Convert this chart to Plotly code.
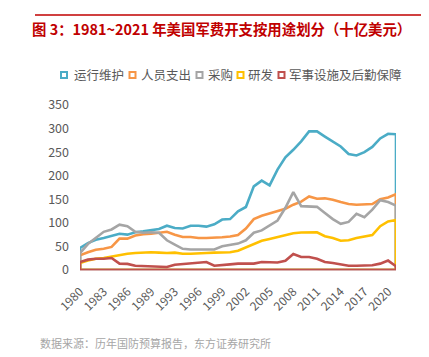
import plotly.graph_objects as go

years = [str(y) for y in list(range(1980, 1990)) + list(range(1991, 2022))]
tick_labels = ["1980", "1983", "1986", "1989", "1993", "1996", "1999", "2002",
               "2005", "2008", "2011", "2014", "2017", "2020"]

series_names = ["运行维护", "人员支出", "采购", "研发", "军事设施及后勤保障"]

om = [46.7, 57, 64, 68, 73, 77, 75, 80, 82, 85, 87, 94, 89, 88, 94, 94, 92, 97, 107, 108,
      124.5, 133.7, 177.5, 189.5, 179.6, 212.9, 239, 255, 273, 294, 294, 283, 273, 262, 246,
      243, 250, 261, 279, 289, 288]
personnel = [31, 37.5, 43, 45, 49, 66.5, 66.5, 73, 76, 77, 79, 81, 75, 70, 70, 68, 68, 68, 69.5, 71,
             74, 88, 108, 115, 120, 126, 130, 138.5, 145, 156, 151, 152, 149, 144, 140,
             138.5, 138.5, 140, 150, 154, 161]
procurement = [36, 55, 69, 81, 86, 96, 93, 81, 79, 80, 79, 63, 54, 45, 43.5, 43.5, 42, 43.5, 50.5, 53,
               56, 63, 79, 84, 95, 105, 132, 165, 135.5, 135.5, 134, 121, 108, 98, 102,
               119, 112, 128, 148, 144, 136.5]
rnd = [15, 20, 24, 25.5, 29, 32.5, 34.6, 36, 36.8, 37.5, 36.8, 36, 36.8, 34.6, 34.6, 34.6, 36, 36.8, 37.5, 37.5,
       41, 48, 56, 62, 66, 70, 75, 78, 79.5, 79.5, 80, 71.6, 68, 62, 63,
       68, 71, 74, 93, 103, 106]
facilities = [17, 22, 24, 24, 25.5, 13.5, 13, 9, 8, 8, 6.4, 6.4, 11.3, 12.7, 12.7, 15, 17, 9, 9.9, 12,
              13.5, 12.7, 13.5, 17, 17, 16, 19.7, 34, 27.6, 27.6, 24, 17, 15, 12.7, 9,
              9, 9, 10, 13.5, 20, 8]

all_series = [om, personnel, procurement, rnd, facilities]
colors = ["#4BACC6", "#F79646", "#A5A5A5", "#FFC000", "#C0504D"]

W, H = 429, 357
L, R, T, B = 72, 41, 97, 95
PW, PH = W - L - R, H - T - B


def px(x):
    return (x - L) / PW


def py(y):
    return (H - B - y) / PH


fig = go.Figure()
for name, vals, col in zip(series_names, all_series, colors):
    xs = [years[0]] + years + [years[-1], years[0]]
    ys = [0] + vals + [0, 0]
    fig.add_trace(go.Scatter(x=xs, y=ys, mode="lines", name=name,
                             line=dict(color=col, width=2.6), showlegend=False,
                             hoverinfo="skip"))

grey = "#595959"
font_cjk = "Noto Sans CJK SC, Liberation Sans, sans-serif"

shapes = [
    dict(type="line", xref="paper", yref="paper", x0=px(27), x1=px(420), y0=py(7), y1=py(7),
         line=dict(color="#C00000", width=1.5)),
    dict(type="line", xref="paper", yref="paper", x0=px(20), x1=px(427), y0=py(352), y1=py(352),
         line=dict(color="#E88A8A", width=2)),
]
annotations = [
    dict(text="<b>图 3：1981~2021 年美国军费开支按用途划分（十亿美元）</b>", xref="paper", yref="paper",
         x=px(22), y=py(20), xanchor="left", yanchor="middle", showarrow=False,
         font=dict(family=font_cjk, size=14.4, color="#C00000")),
    dict(text="数据来源：历年国防预算报告，东方证券研究所", xref="paper", yref="paper",
         x=px(30), y=py(335), xanchor="left", yanchor="middle", showarrow=False,
         font=dict(family=font_cjk, size=11, color="#A6A6A6")),
]

icon_cx = [56, 124.5, 191.5, 232.5, 273.5]
text_x = [64, 131, 198, 238, 279]
ly = 67
for name, col, cx, tx in zip(series_names, colors, icon_cx, text_x):
    shapes.append(dict(type="rect", xref="paper", yref="paper",
                       x0=px(cx - 3), x1=px(cx + 3), y0=py(ly + 3), y1=py(ly - 3),
                       line=dict(color=col, width=2), fillcolor="white"))
    annotations.append(dict(text=name, xref="paper", yref="paper", x=px(tx), y=py(ly),
                            xanchor="left", yanchor="middle", showarrow=False,
                            font=dict(family=font_cjk, size=12.5, color=grey)))

fig.update_layout(
    width=W, height=H,
    margin=dict(l=L, r=R, t=T, b=B),
    paper_bgcolor="white", plot_bgcolor="white",
    showlegend=False,
    shapes=shapes, annotations=annotations,
    xaxis=dict(type="category", categoryorder="array", categoryarray=years,
               range=[0, len(years) - 1], tickmode="array", tickvals=tick_labels,
               ticktext=tick_labels, tickangle=-45, showgrid=False, zeroline=False,
               showline=True, linecolor="#D9B0AE", linewidth=1, ticks="",
               ticklabelstandoff=9,
               tickfont=dict(family=font_cjk, size=12, color=grey)),
    yaxis=dict(range=[0, 350], tickvals=[0, 50, 100, 150, 200, 250, 300, 350],
               showgrid=False, zeroline=False, showline=False, ticks="",
               ticklabelstandoff=10,
               tickfont=dict(family=font_cjk, size=12.5, color=grey)),
)

fig.write_html("out.html")
